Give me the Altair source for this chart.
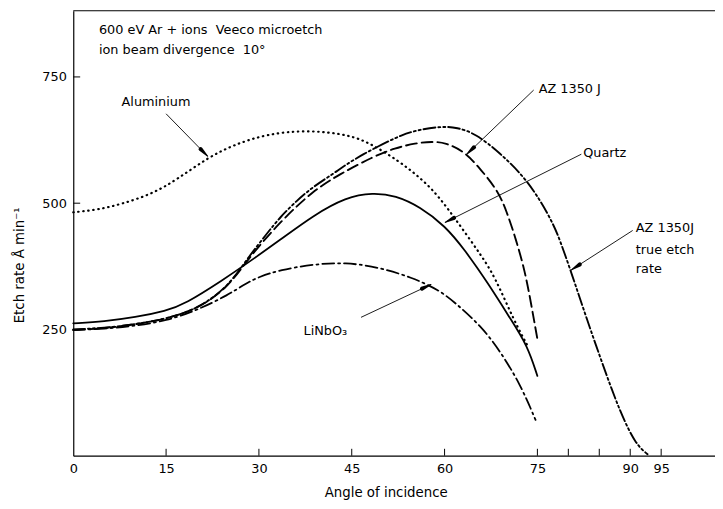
import math
import altair as alt
import pandas as pd

FONT = "DejaVu Sans"
W, H = 649, 450
XMAX, YMAX = 103.7, 881.0

# ---- data ----
al_x = [0, 4, 8, 12.7, 16.9, 21.7, 26, 31.3, 37.7, 44.6, 48.4, 52.6, 55.3, 58, 60.5, 63.3, 66, 68.1, 71.2, 73.4]
al_y = [482, 487, 499, 518, 548, 590, 616, 637, 645, 636, 616, 583, 558, 528, 490, 442, 395, 355, 268, 218]

q_x = [0, 5, 10, 15, 18, 24.3, 28.1, 33.4, 38.8, 44.1, 48.4, 52.1, 56, 60.1, 63.3, 67, 70.7, 73.4, 75]
q_y = [262, 266, 274, 287, 300, 349, 381, 427, 476, 512, 521, 515, 493, 455, 407, 342, 270, 218, 158]

az_x = [0, 5, 10, 15, 20, 25, 28.1, 33.4, 38.8, 43, 48.4, 52, 55.3, 58, 60.1, 63.3, 65.9, 68.6, 70, 71.5, 73, 74, 75]
az_y = [249, 252, 260, 271, 290, 333, 388, 463, 525, 557, 592, 609, 619, 622, 620, 602, 566, 525, 485, 430, 365, 300, 231]

azt_x = [0, 5, 10, 15, 20, 25, 28.1, 31.3, 33.4, 36.1, 38.8, 42, 44, 47, 50, 53, 56, 59.5, 62, 65, 69, 72.8, 75.5, 77.6, 78.7, 80.5, 83, 85.6, 88.3, 90.9, 92.8]
azt_y = [250, 253, 260, 271, 290, 334, 390, 440, 472, 505, 533, 558, 576, 598, 617, 635, 646, 652, 650, 638, 599, 553, 505, 458, 425, 362, 270, 179, 88, 22, 3]

li_x = [0, 5, 10, 15, 20, 25, 28, 30, 33.4, 38.8, 44, 49.4, 54.7, 59, 61.7, 65.9, 69.1, 72.3, 74.7]
li_y = [249, 251, 257, 267, 288, 318, 342, 354, 368, 379, 383, 373, 353, 329, 303, 257, 205, 140, 71]

x_label_values = [0, 15, 30, 45, 60, 75, 90, 95]
x_tick_values = [15, 30, 45, 60, 75, 80, 85, 90, 95]
y_tick_values = [250, 500, 750]

NB = "\u00a0"
notes = ["600 eV Ar + ions" + NB + NB + "Veeco microetch", "ion beam divergence" + NB + NB + "10°", "Aluminium",
         "AZ 1350 J", "Quartz", "AZ 1350J", "true etch", "rate", "LiNbO₃"]
note_x = [4.15, 4.15, 7.8, 75.2, 82.4, 90.9, 90.9, 90.9, 37.2]
note_y = [843, 803, 701, 726, 599, 450, 407, 370, 247]

arrow_x1 = [15.0, 74.4, 82.1, 90.4, 46.5]
arrow_y1 = [677, 724, 597, 446, 274]
arrow_x2 = [21.7, 63.6, 60.1, 80.5, 57.8]
arrow_y2 = [593, 597, 462, 368, 339]

# ---- scales / axes ----
xs = alt.Scale(domain=[0, XMAX], nice=False, zero=False)
ys = alt.Scale(domain=[0, YMAX], nice=False, zero=False)
xaxis = alt.Axis(values=x_label_values, ticks=False, grid=False, labelPadding=7,
                 title="Angle of incidence", titleX=316, titleY=37, titleAlign="center",
                 titleBaseline="middle", labelFlush=False)
yaxis = alt.Axis(values=y_tick_values, ticks=False, grid=False, labelPadding=7,
                 title="Etch rate  Å  min⁻¹", titleX=-54, titleY=257, titleAngle=270,
                 titleAlign="center", titleBaseline="middle")


def X(f):
    return alt.X(f, type="quantitative", scale=xs, axis=xaxis)


def Y(f):
    return alt.Y(f, type="quantitative", scale=ys, axis=yaxis)


layers = []
series = [
    (al_x, al_y, [0.5, 4.6], 2.2),
    (q_x, q_y, None, 1.8),
    (az_x, az_y, [11, 5], 1.9),
    (azt_x, azt_y, [12, 3, 2, 3, 2, 3], 1.9),
    (li_x, li_y, [12, 4, 2, 4], 1.8),
]
for sx, sy, dash, sw in series:
    df = pd.DataFrame({"x": sx, "y": sy})
    kw = dict(color="black", strokeWidth=sw, interpolate="basis", strokeCap="round")
    if dash is not None:
        kw["strokeDash"] = dash
    layers.append(alt.Chart(df).mark_line(**kw).encode(x=X("x"), y=Y("y")))

# arrows: shafts
adf = pd.DataFrame({"x": arrow_x1, "y": arrow_y1, "x2": arrow_x2, "y2": arrow_y2})
layers.append(alt.Chart(adf).mark_rule(color="black", strokeWidth=0.9).encode(
    x=X("x"), y=Y("y"), x2="x2", y2="y2"))

# arrows: heads as tapered trails (tip width 0, base width 4 px, length 10 px)
kx, ky = W / XMAX, H / YMAX
hid, hx, hy, hw = [], [], [], []
for i, (a, b, c, d) in enumerate(zip(arrow_x1, arrow_y1, arrow_x2, arrow_y2)):
    dx = (c - a) * kx
    dy = (d - b) * ky
    L = math.hypot(dx, dy)
    back = 10.0
    hid += [i, i]
    hx += [c - dx / L * back / kx, c]
    hy += [d - dy / L * back / ky, d]
    hw += [4.2, 0.0]
hdf = pd.DataFrame({"id": hid, "x": hx, "y": hy, "w": hw, "o": [0, 1] * len(arrow_x1)})
layers.append(alt.Chart(hdf).mark_trail(color="black").encode(
    x=X("x"), y=Y("y"), size=alt.Size("w:Q", scale=None, legend=None),
    detail="id:N", order="o:Q"))

# text notes
ndf = pd.DataFrame({"t": notes, "x": note_x, "y": note_y})
layers.append(alt.Chart(ndf).mark_text(align="left", baseline="middle", font=FONT,
                                       fontSize=13, color="black").encode(
    x=X("x"), y=Y("y"), text="t"))

# inward ticks
xt = pd.DataFrame({"v": x_tick_values})
layers.append(alt.Chart(xt).mark_rule(color="black", strokeWidth=1).encode(
    x=X("v"), y=alt.value(H), y2=alt.value(H - 7)))
yt = pd.DataFrame({"v": y_tick_values})
layers.append(alt.Chart(yt).mark_rule(color="black", strokeWidth=1).encode(
    y=Y("v"), x=alt.value(0), x2=alt.value(7)))

# top frame line
layers.append(alt.Chart(pd.DataFrame({"a": [0]})).mark_rule(color="black", strokeWidth=1.2).encode(
    x=alt.value(0), x2=alt.value(W), y=alt.value(0)))

chart = alt.layer(*layers).properties(
    width=W, height=H, autosize="none",
    padding={"left": 66, "top": 0, "right": 0, "bottom": 43},
).configure_view(stroke=None).configure_axis(
    domainColor="black", domainWidth=1.2, labelColor="black", titleColor="black",
    labelFont=FONT, titleFont=FONT, labelFontSize=13, titleFontSize=13.5,
    titleFontWeight="normal",
)

chart.save("out.html", embed_options={"renderer": "svg", "actions": False})
